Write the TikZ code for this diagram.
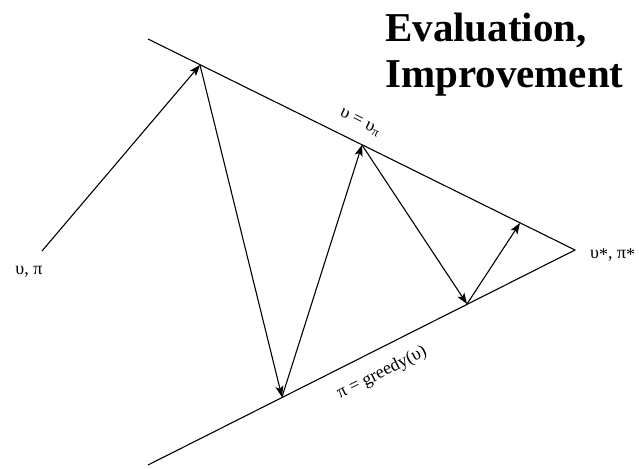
\documentclass[tikz,border=0pt]{standalone}
\usepackage{fontspec}
\setmainfont{Liberation Serif}
\usetikzlibrary{arrows.meta}
\begin{document}
\begin{tikzpicture}[x=1pt,y=-1pt,
  edge/.style={line width=1.1pt},
  arr/.style={line width=1.1pt,-{Stealth[length=11pt,width=8pt,inset=2.5pt]}},
  lbl/.style={font=\fontsize{18}{20}\selectfont, inner sep=0pt},
  ttl/.style={font=\fontsize{41}{46}\selectfont\bfseries, inner sep=0pt, anchor=base west}]
\useasboundingbox (0,0) rectangle (639,468);
% guide lines
\coordinate (U0) at (148,39);
\coordinate (L0) at (148,465);
\coordinate (X) at (575,250);
\draw[edge] (U0) -- (X) -- (L0);
% zigzag points
\coordinate (S) at (42,251);
\coordinate (P1) at (200,65);
\coordinate (P2) at (282,397);
\coordinate (P3) at (362,145);
\coordinate (P4) at (467,304);
\coordinate (P5) at (520,223);
\draw[arr] (S) -- (P1);
\draw[arr] (P1) -- (P2);
\draw[arr] (P2) -- (P3);
\draw[arr] (P3) -- (P4);
\draw[arr] (P4) -- (P5);
% labels
\node[lbl] (vpi) at (29,272) {υ, π};
\node[lbl, anchor=west] (vstar) at (590,255) {υ\raisebox{-0.35ex}{*}, π\raisebox{-0.35ex}{*}};
\node[lbl, rotate=-26.3] (vv) at (360,123) {υ = υ\textsubscript{π}};
\node[lbl, rotate=26.7] (greedy) at (382,373) {π = greedy(υ)};
\node[ttl] (t1) at (385,42) {Evaluation,};
\node[ttl] (t2) at (385,88) {Improvement};
\end{tikzpicture}
\end{document}
